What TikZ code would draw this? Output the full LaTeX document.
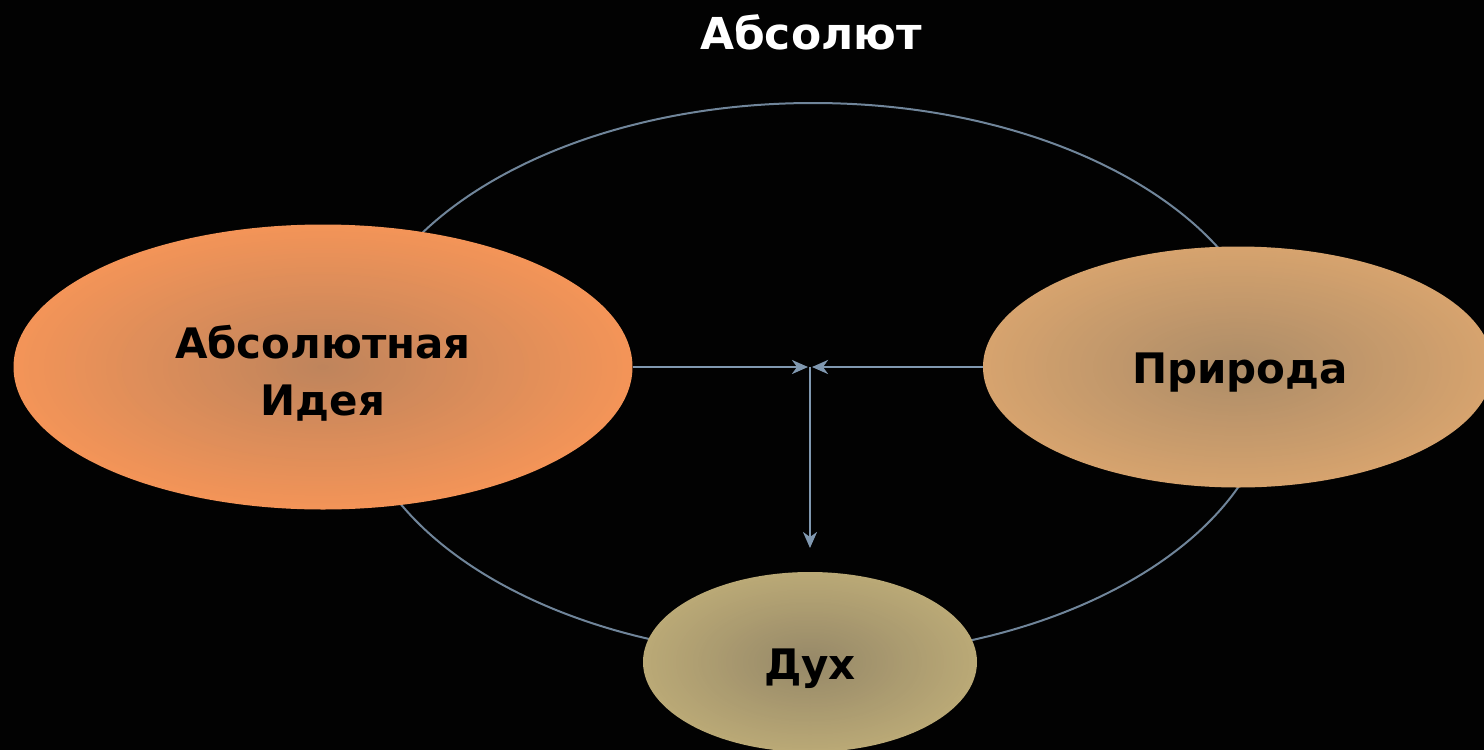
\documentclass[tikz,border=0pt]{standalone}
\usepackage{fontspec}
\setmainfont{DejaVu Sans}
\usetikzlibrary{arrows.meta,shapes.geometric}
\definecolor{bgc}{RGB}{2,2,2}
\definecolor{linec}{RGB}{112,133,154}
\definecolor{arrc}{RGB}{128,152,176}
\definecolor{orEdge}{RGB}{243,148,88}
\definecolor{orMid}{RGB}{190,132,92}
\definecolor{prEdge}{RGB}{214,163,110}
\definecolor{prMid}{RGB}{172,140,104}
\definecolor{duEdge}{RGB}{186,169,118}
\definecolor{duMid}{RGB}{150,136,104}
\newcommand\gradell[5]{%
  \foreach \k in {0,...,59}{%
    \pgfmathsetmacro\ff{1-\k/60}%
    \pgfmathtruncatemacro\pp{\k*100/60}%
    \fill[#5!\pp!#4] #1 ellipse [x radius=#2*\ff, y radius=#3*\ff];
  }}
\tikzset{
  blob/.style={ellipse, inner sep=0pt},
  lbl/.style={align=center, font=\fontsize{42}{57}\selectfont\bfseries, text=black},
  conn/.style={draw=arrc, line width=2.6pt,
    -{Stealth[length=16pt,width=14pt,inset=5pt]}},
}
\begin{document}
\begin{tikzpicture}[x=1pt,y=-1pt]
\fill[bgc] (0,0) rectangle (1484,750);
\useasboundingbox (0,0) rectangle (1484,750);
\node[font=\fontsize{44}{50}\selectfont\bfseries, text=white] (title) at (811,32) {Абсолют};
\draw[linec, line width=2pt] (813,380) ellipse [x radius=461, y radius=277];
\gradell{(323,367)}{309.5}{142.5}{orEdge}{orMid}
\gradell{(1238,367)}{255}{120.5}{prEdge}{prMid}
\gradell{(810,662)}{167}{90}{duEdge}{duMid}
\node[blob, minimum width=619pt, minimum height=285pt] (idea) at (323,367) {};
\node[blob, minimum width=510pt, minimum height=241pt] (nat) at (1238,367) {};
\node[blob, minimum width=334pt, minimum height=180pt] (dukh) at (810,662) {};
\node[lbl] (ideaT) at (323,373) {Абсолютная\\Идея};
\node[lbl] (natT) at (1240,373) {Природа};
\node[lbl] (dukhT) at (810,669) {Дух};
\coordinate (jl) at (808,367);
\coordinate (jr) at (812,367);
\coordinate (j) at (810,367);
\coordinate (dn) at (810,548);
\draw[conn] (idea.east) -- (jl);
\draw[conn] (nat.west) -- (jr);
\draw[conn] (j) -- (dn);
\end{tikzpicture}
\end{document}
